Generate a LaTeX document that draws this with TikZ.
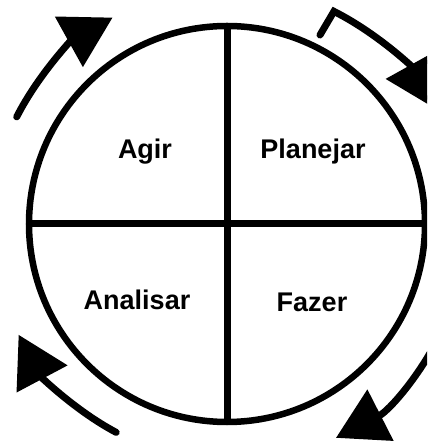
\documentclass[tikz,border=0pt]{standalone}
\usepackage{fontspec}
\setmainfont{Liberation Sans}[BoldFont={Liberation Sans Bold}]
\usetikzlibrary{arrows.meta}
\tikzset{
  seta/.style={line width=7pt,line cap=round,-{Triangle[length=50pt,width=56pt]}},
  eixo/.style={line width=7pt},
  fase/.style={font=\bfseries\fontsize{27}{27}\selectfont}
}

\begin{document}
\begin{tikzpicture}[x=1pt,y=1pt]
\path[use as bounding box,clip] (-227,-219) rectangle (200,224);
\node[circle,draw,line width=6.5pt,minimum size=396pt,inner sep=0pt,outer sep=0pt] (ciclo) at (0,0) {};
\draw[eixo] (ciclo.north) -- (ciclo.south);
\draw[eixo] (ciclo.west) -- (ciclo.east);
\node[fase] (agir) at (-82,72) {Agir};
\node[fase] (planejar) at (86,72) {Planejar};
\node[fase] (analisar) at (-90,-76) {Analisar};
\node[fase] (fazer) at (85,-78) {Fazer};
% setas do ciclo
\draw[seta] (153:236) arc[start angle=153,end angle=119,radius=236];
\draw[seta,line join=miter] (93,189) -- (63.3:238) arc[start angle=63.3,end angle=29,radius=238];
\draw[seta] (-20:240) arc[start angle=-20,end angle=-63,radius=240];
\draw[seta] (242:236) arc[start angle=242,end angle=208,radius=236];
\end{tikzpicture}
\end{document}
